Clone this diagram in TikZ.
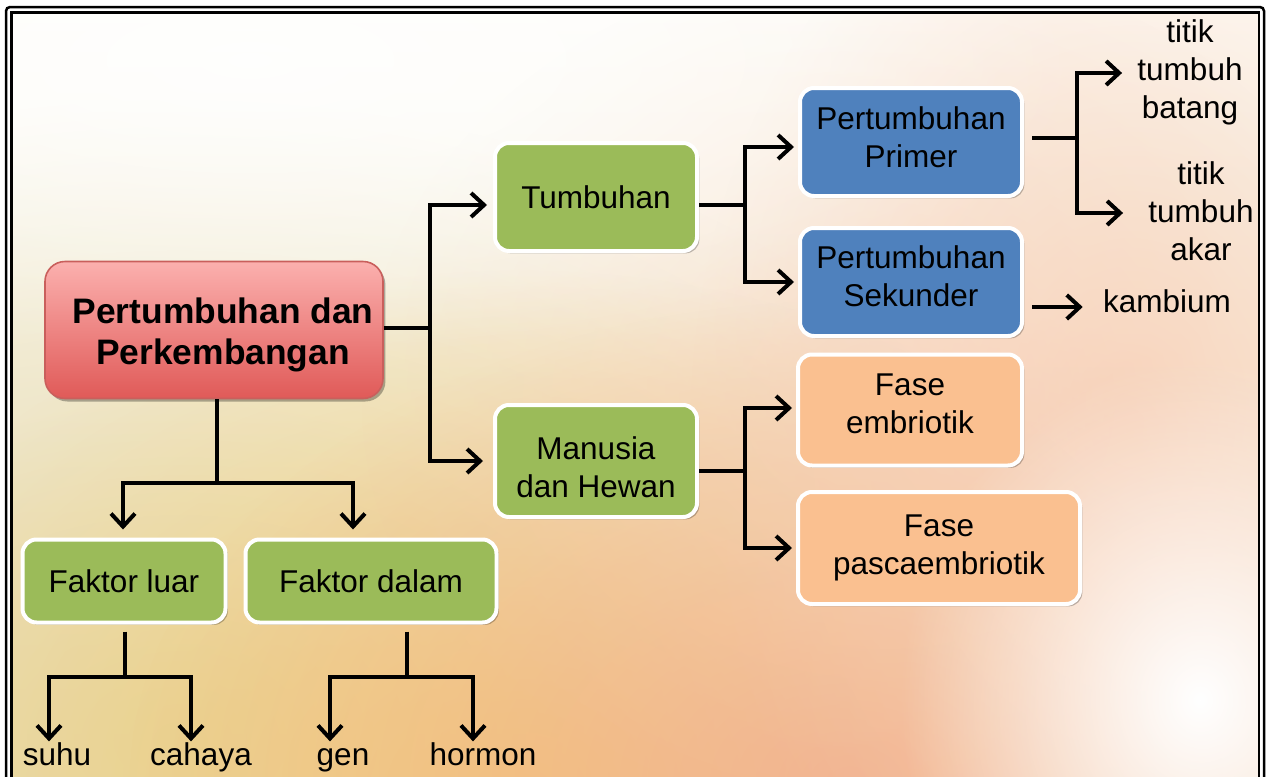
\documentclass[tikz,border=0pt]{standalone}
\usepackage{fontspec}
\setmainfont{Liberation Sans}
\usetikzlibrary{arrows.meta,shadows,fadings}
\definecolor{gfill}{HTML}{9BBB59}
\definecolor{bfill}{HTML}{4F81BD}
\definecolor{ofill}{HTML}{FAC090}
\definecolor{rtop}{HTML}{FBB0AE}
\definecolor{rbot}{HTML}{E05A58}
\definecolor{rline}{HTML}{C95F5C}
\definecolor{bgtop}{HTML}{FEFDF9}
\definecolor{bgbot}{HTML}{F2EBD2}
\definecolor{bgyel}{HTML}{F6CA66}
\definecolor{bgbeige}{HTML}{E2D4A2}
\definecolor{bgsalm}{HTML}{F3AC8C}
\definecolor{bgpeach}{HTML}{F8CCB2}
\tikzfading[name=blob, inner color=transparent!0, outer color=transparent!100]
\tikzset{
  txt/.style={font=\fontsize{15.75}{19}\selectfont, align=center, text=black},
  boxbase/.style={txt, rounded corners=7pt, draw=white, line width=2pt, inner sep=0pt,
    drop shadow={shadow xshift=1.2pt, shadow yshift=-1.2pt, opacity=0.25, fill=black}},
  gbox/.style={boxbase, fill=gfill},
  bbox/.style={boxbase, fill=bfill},
  obox/.style={boxbase, fill=ofill},
  mainbox/.style={font=\fontsize{17.7}{20.5}\selectfont\bfseries, align=center,
    rounded corners=10pt, top color=rtop, bottom color=rbot, draw=rline, line width=0.8pt,
    inner sep=0pt, minimum width=169pt, minimum height=68.5pt,
    drop shadow={shadow xshift=1.2pt, shadow yshift=-1.5pt, opacity=0.3, fill=black}},
  lbl/.style={txt, inner sep=0pt},
  wlbl/.style={txt, inner sep=0pt, text height=0.72em, text depth=0.2em},
  ln/.style={line width=2pt, black},
  arr/.style={ln, -{Straight Barb[length=6.5pt,width=12pt,line width=2pt]}},
  frameline/.style={line width=1.25pt, black}
}
\newcommand\upby[1]{\rule[-#1]{0pt}{0pt}}
\newcommand\downby[1]{\rule{0pt}{#1}}
\begin{document}
\begin{tikzpicture}[x=0.5pt,y=-0.5pt]
\useasboundingbox (0,0) rectangle (1270,777);
% background
\begin{scope}
\clip (11.5,12.5) rectangle (1259,800);
\shade[top color=bgtop, bottom color=bgbot] (0,0) rectangle (1270,800);
\fill[bgbeige, path fading=blob, opacity=0.85] (180,740) ellipse [x radius=460pt, y radius=320pt];
\fill[bgyel, path fading=blob, opacity=0.75] (520,790) ellipse [x radius=360pt, y radius=260pt];
\fill[bgsalm, path fading=blob, opacity=0.85] (850,780) ellipse [x radius=360pt, y radius=240pt];
\fill[bgpeach, path fading=blob, opacity=0.7] (1130,430) ellipse [x radius=220pt, y radius=300pt];
\fill[bgpeach, path fading=blob, opacity=0.45] (880,400) ellipse [x radius=260pt, y radius=220pt];
\fill[white, path fading=blob, opacity=1] (1200,700) ellipse [x radius=150pt, y radius=170pt];
\fill[white, path fading=blob, opacity=0.8] (250,60) ellipse [x radius=420pt, y radius=150pt];
\end{scope}
% frame
\draw[frameline, rounded corners=2pt] (6,7) rectangle (1264,800);
\draw[frameline] (11.5,12.5) rectangle (1259,800);

% nodes
\node[mainbox] (main) at (214,330) {\rule{0pt}{18pt}\hspace*{9pt}Pertumbuhan dan\\\hspace*{9pt}Perkembangan};
\node[gbox, minimum width=101pt, minimum height=54pt] (tumb) at (596,197) {Tumbuhan};
\node[gbox, minimum width=101pt, minimum height=56pt] (manu) at (596,461) {\downby{17.3pt}Manusia\\dan Hewan};
\node[bbox, minimum width=111pt, minimum height=54pt] (prim) at (911,142) {Pertumbuhan\\Primer\upby{5pt}};
\node[bbox, minimum width=111pt, minimum height=54pt] (sek) at (911,282) {Pertumbuhan\\Sekunder\upby{6pt}};
\node[obox, minimum width=112pt, minimum height=55.5pt] (emb) at (910,410) {Fase\\embriotik\upby{6pt}};
\node[obox, minimum width=141pt, minimum height=56pt] (pasc) at (939,548) {Fase\\pascaembriotik};
\node[gbox, minimum width=101.5pt, minimum height=41.5pt] (fl) at (124,581) {Faktor luar};
\node[gbox, minimum width=125.5pt, minimum height=41.5pt] (fd) at (371,581) {Faktor dalam};

\node[lbl] (batang) at (1190,72) {titik\\tumbuh\\batang};
\node[lbl] (akar) at (1201,211) {titik\\tumbuh\\akar};
\node[wlbl] (kamb) at (1167,307) {kambium};
\node[wlbl] (suhu) at (57,760) {suhu};
\node[wlbl] (cahaya) at (201,760) {cahaya};
\node[wlbl] (gen) at (343,760) {gen};
\node[wlbl] (hormon) at (483,760) {hormon};

% connectors: main -> right
\coordinate (m1) at (430,328);
\draw[ln] (main.east |- m1) -- (m1);
\draw[arr, shorten >=3pt] (m1) |- ([yshift=-4pt]tumb.west);
\draw[arr, shorten >=5pt] (m1) |- (manu.west);
% main -> down
\coordinate (b1) at (217,483);
\draw[ln] (b1 |- main.south) -- (b1);
\draw[arr, shorten >=4pt] (b1) -| ([xshift=-0.5pt]fl.north);
\draw[arr, shorten >=4pt] (b1) -| ([xshift=-9pt]fd.north);
% tumbuhan
\coordinate (t1) at (745,205);
\draw[ln] ([yshift=-4pt]tumb.east) -- (t1);
\draw[arr, shorten >=2pt] (t1) |- ([yshift=-2.5pt]prim.west);
\draw[arr, shorten >=2pt] (t1) |- (sek.west);
% manusia
\coordinate (h1) at (745,471);
\draw[ln] ([yshift=-5pt]manu.east) -- (h1);
\draw[arr, shorten >=2pt] (h1) |- ([yshift=1pt]emb.west);
\draw[arr, shorten >=2pt] (h1) |- (pasc.west);
% primer
\coordinate (p1) at (1077,138);
\draw[ln, shorten <=4pt] ([yshift=2pt]prim.east) -- (p1);
\draw[arr, shorten >=7.5pt] (p1) |- ([yshift=-0.5pt]batang.west);
\draw[arr, shorten >=12.5pt] (p1) |- ([yshift=-1pt]akar.west);
% sekunder
\draw[arr, shorten <=4pt, shorten >=10pt] (sek.east |- kamb.west) -- (kamb.west);
% faktor luar
\coordinate (f1) at (125,677);
\draw[ln, shorten <=3.5pt] (fl.south -| f1) -- (f1);
\draw[arr, shorten >=4.5pt] (f1) -| ([xshift=-4pt]suhu.north);
\draw[arr, shorten >=4.5pt] (f1) -| ([xshift=-5pt]cahaya.north);
% faktor dalam
\coordinate (d1) at (407,677);
\draw[ln, shorten <=3.5pt] (fd.south -| d1) -- (d1);
\draw[arr, shorten >=4.5pt] (d1) -| ([xshift=-6.5pt]gen.north);
\draw[arr, shorten >=4.5pt] (d1) -| ([xshift=-5pt]hormon.north);
\end{tikzpicture}
\end{document}
